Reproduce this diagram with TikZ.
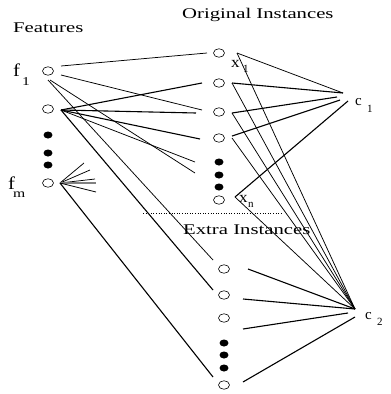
\documentclass[tikz,border=0pt]{standalone}
\usepackage{fontspec}
\setmainfont{Liberation Serif}
\usepackage{graphicx}
\usetikzlibrary{shapes.geometric,calc}
\tikzset{
  inst/.style={draw, ellipse, minimum width=11pt, minimum height=8.5pt, inner sep=0pt, line width=0.6pt},
  blob/.style={fill, ellipse, minimum width=9pt, minimum height=7pt, inner sep=0pt},
  edge/.style={line width=0.75pt},
  bold/.style={line width=1.1pt},
  title/.style={anchor=base west, inner sep=0pt, font=\fontsize{14.8}{17}\selectfont},
  lab/.style={anchor=base west, inner sep=0pt},
}
\begin{document}
\begin{tikzpicture}[x=1pt,y=-1pt]
\useasboundingbox (0,0) rectangle (391,394);
% titles
\node[title] (tfeat) at (13,32) {\scalebox{1.4}[1]{Features}};
\node[title] (torig) at (182,18) {\scalebox{1.4}[1]{Original Instances}};
\node[title] (textra) at (183,234) {\scalebox{1.4}[1]{Extra Instances}};
% feature nodes
\node[inst] (F1) at (48,71) {};
\node[inst] (F2) at (48,109) {};
\node[blob] (fd1) at (48,135) {};
\node[blob] (fd2) at (48,153) {};
\node[blob] (fd3) at (48,165) {};
\node[inst] (Fm) at (48,183) {};
% original instances
\node[inst] (X1) at (219,53) {};
\node[inst] (X2) at (219,83) {};
\node[inst] (X3) at (219,112) {};
\node[inst] (X4) at (219,138) {};
\node[blob] (xd1) at (219,162) {};
\node[blob] (xd2) at (219,175) {};
\node[blob] (xd3) at (219,187) {};
\node[inst] (Xn) at (219,200) {};
% extra instances
\node[inst] (E1) at (224,269) {};
\node[inst] (E2) at (224,295) {};
\node[inst] (E3) at (224,318) {};
\node[blob] (ed1) at (224,343) {};
\node[blob] (ed2) at (224,355) {};
\node[blob] (ed3) at (224,368) {};
\node[inst] (Ek) at (224,385) {};
% class points
\coordinate (C1) at (343,93);
\coordinate (C2) at (355,309);
% labels
\node[lab, font=\fontsize{18}{20}\selectfont] (lf1) at (13,76) {\scalebox{1.15}[1]{f}};
\node[lab, font=\fontsize{12}{14}\selectfont] (lf1s) at (22,85) {\scalebox{1.3}[1]{1}};
\node[lab, font=\fontsize{18}{20}\selectfont] (lfm) at (8,189) {\scalebox{1.15}[1]{f}};
\node[lab, font=\fontsize{12}{14}\selectfont] (lfms) at (13,197) {\scalebox{1.3}[1]{m}};
\node[lab, font=\fontsize{15.5}{17}\selectfont] (lx1) at (231,67) {\scalebox{1.1}[1]{x}};
\node[lab, font=\fontsize{11}{13}\selectfont] (lx1s) at (243,72) {1};
\node[lab, font=\fontsize{15.5}{17}\selectfont] (lxn) at (239,202) {\scalebox{1.1}[1]{x}};
\node[lab, font=\fontsize{11}{13}\selectfont] (lxns) at (248,207) {n};
\node[lab, font=\fontsize{15}{17}\selectfont] (lc1) at (355,105) {c};
\node[lab, font=\fontsize{11}{13}\selectfont] (lc1s) at (367,112) {1};
\node[lab, font=\fontsize{15}{17}\selectfont] (lc2) at (365,319) {c};
\node[lab, font=\fontsize{11}{13}\selectfont] (lc2s) at (377,325) {2};
% feature edges
\draw[edge] ($(F1)+(13,-5)$) -- ($(X1)+(-12,0)$);
\draw[edge] ($(F1)+(13,4)$) -- ($(X3)+(-17,-2)$);
\draw[edge] ($(F1)+(0,9)$) -- ($(E1)+(-11,-9)$);
\draw[edge] ($(F1)+(2,9)$) -- ($(Xn)+(-24,-27)$);
\draw[bold] ($(F2)+(13,1)$) -- ($(X2)+(-17,0)$);
\draw[bold] ($(F2)+(13,1)$) -- ($(X3)+(-23,1)$);
\draw[bold] ($(F2)+(13,1)$) -- ($(X4)+(-19,1)$);
\draw[edge] ($(F2)+(13,1)$) -- ($(Xn)+(-24,-38)$);
\draw[bold] ($(F2)+(13,1)$) -- ($(E2)+(-11,-5)$);
\draw[edge] ($(Fm)+(12,0)$) -- ($(Fm)+(36,-20)$);
\draw[edge] ($(Fm)+(12,0)$) -- ($(Fm)+(42,-13)$);
\draw[edge] ($(Fm)+(12,0)$) -- ($(Fm)+(47,-4)$);
\draw[bold,gray] ($(Fm)+(12,0)$) -- ($(Fm)+(48,0)$);
\draw[edge] ($(Fm)+(12,0)$) -- ($(Fm)+(48,9)$);
\draw[bold] ($(Fm)+(12,0)$) -- ($(Ek)+(-11,-8)$);
% original instances to c1
\draw[edge] ($(X1)+(18,0)$) -- (C1);
\draw[bold] ($(X2)+(13,0)$) -- (C1);
\draw[bold] ($(X3)+(13,1)$) -- ($(C1)+(-6,4)$);
\draw[bold] ($(X4)+(13,-2)$) -- ($(C1)+(-3,7)$);
\draw[bold] ($(Xn)+(16,-3)$) -- ($(C1)+(5,8)$);
% original instances to c2
\draw[edge] ($(X1)+(18,0)$) -- (C2);
\draw[edge] ($(X2)+(13,0)$) -- (C2);
\draw[edge] ($(X3)+(13,1)$) -- (C2);
\draw[edge] ($(X4)+(13,0)$) -- (C2);
\draw[edge] ($(Xn)+(16,-3)$) -- (C2);
% extra instances to c2
\draw[bold] ($(E1)+(24,0)$) -- (C2);
\draw[bold] ($(E2)+(19,4)$) -- (C2);
\draw[bold] ($(E3)+(19,11)$) -- ($(C2)+(-7,4)$);
\draw[bold] ($(Ek)+(19,-3)$) -- ($(C2)+(0,8)$);
% separator
\coordinate (sepL) at (143,213);
\coordinate (sepR) at (283,213);
\draw[dotted, line width=0.6pt] (sepL) -- (sepR);
\end{tikzpicture}
\end{document}
